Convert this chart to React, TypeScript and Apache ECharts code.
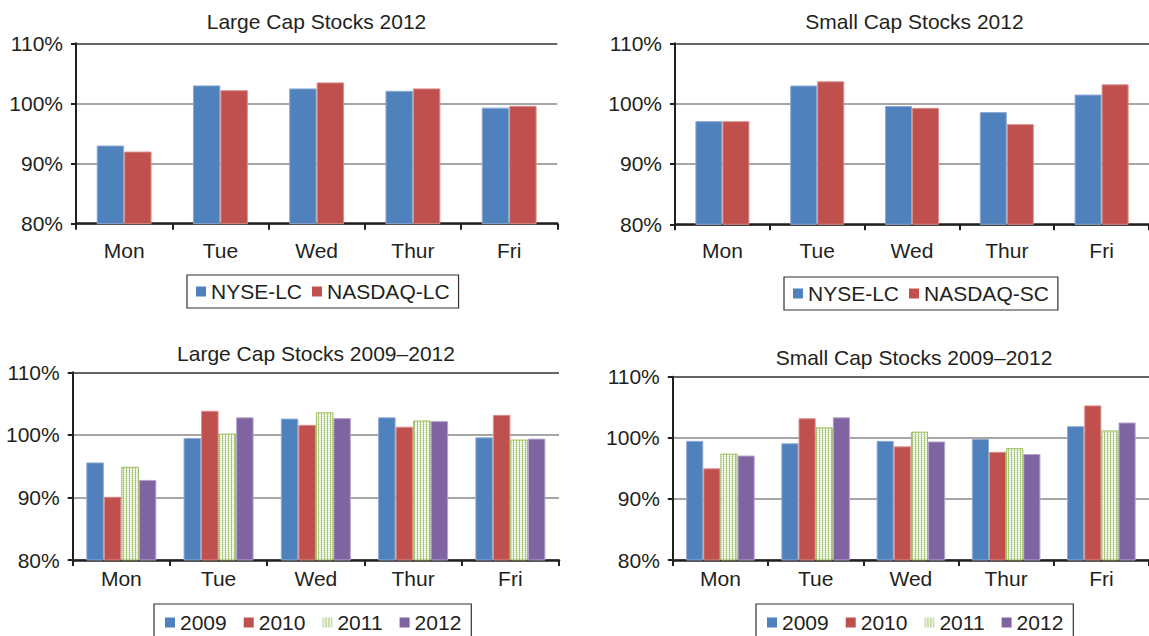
import React, { useEffect, useRef } from "react";
import * as echarts from "echarts";

const days = ["Mon", "Tue", "Wed", "Thur", "Fri"];
const yTicks = [80, 110, 10];

const lcNyse2012 = [93.0, 103.0, 102.5, 102.1, 99.3];
const lcNasdaq2012 = [92.0, 102.2, 103.5, 102.5, 99.6];
const scNyse2012 = [97.1, 103.0, 99.6, 98.6, 101.5];
const scNasdaq2012 = [97.1, 103.7, 99.3, 96.6, 103.2];

const lc2009 = [95.6, 99.5, 102.6, 102.8, 99.6];
const lc2010 = [90.1, 103.85, 101.6, 101.3, 103.2];
const lc2011 = [94.9, 100.2, 103.6, 102.3, 99.25];
const lc2012 = [92.8, 102.8, 102.7, 102.2, 99.4];

const sc2009 = [99.5, 99.1, 99.5, 99.8, 101.9];
const sc2010 = [95.0, 103.2, 98.6, 97.7, 105.3];
const sc2011 = [97.4, 101.7, 101.0, 98.3, 101.2];
const sc2012 = [97.1, 103.35, 99.4, 97.35, 102.5];

const titles = [
  "Large Cap Stocks 2012",
  "Small Cap Stocks 2012",
  "Large Cap Stocks 2009\u20132012",
  "Small Cap Stocks 2009\u20132012",
];

const FONT = "'Liberation Sans', Arial, Helvetica, sans-serif";
const TXT = "#231F20";
const BLUE = "#4F81BD";
const RED = "#C0504D";
const GREEN = "#9BBB59";
const PURPLE = "#8064A2";

function makePattern() {
  const c = document.createElement("canvas");
  c.width = 3;
  c.height = 2;
  const ctx = c.getContext("2d")!;
  ctx.fillStyle = "#ffffff";
  ctx.fillRect(0, 0, 3, 2);
  ctx.fillStyle = "#A9C97A";
  ctx.fillRect(0, 0, 1, 2);
  ctx.fillStyle = "#DDEBC8";
  ctx.fillRect(1, 0, 2, 1);
  return { image: c, repeat: "repeat", imageWidth: 3, imageHeight: 2 } as any;
}

export default function App() {
  const ref = useRef<HTMLDivElement>(null);
  useEffect(() => {
    if (!ref.current) return;
    const chart = echarts.init(ref.current, undefined, { renderer: "svg" });
    const pattern = makePattern();

    const grids = [
      { left: 76, top: 43.3, width: 481.3, height: 180.4 },
      { left: 675, top: 43.3, width: 481, height: 181 },
      { left: 72.7, top: 372.3, width: 486.3, height: 187.7 },
      { left: 672.8, top: 376.7, width: 482.5, height: 183.3 },
    ];
    const labelMargins = [16, 16, 8, 8];

    const xAxis = grids.map((_, i) => ({
      type: "category",
      gridIndex: i,
      data: days,
      axisLine: { show: true, lineStyle: { color: TXT, width: 2.5 } },
      axisTick: { show: true, length: 6, lineStyle: { color: TXT, width: 2 } },
      axisLabel: { color: TXT, fontSize: 21, fontFamily: FONT, margin: labelMargins[i] },
    }));
    const yAxis = grids.map((_, i) => ({
      type: "value",
      gridIndex: i,
      min: yTicks[0],
      max: yTicks[1],
      interval: yTicks[2],
      axisLine: { show: true, lineStyle: { color: TXT, width: 2 } },
      axisTick: { show: true, length: 5, lineStyle: { color: TXT, width: 2 } },
      axisLabel: { color: TXT, fontSize: 21, fontFamily: FONT, margin: 13, formatter: "{value}%" },
      splitLine: {
        show: true,
        lineStyle: { color: ["#888888", "#888888", "#888888", "#333333"], width: 1.5 },
      },
    }));

    const bar = (name: string, data: number[], idx: number, color: any, border: string, gap: string) => ({
      type: "bar",
      name,
      data,
      xAxisIndex: idx,
      yAxisIndex: idx,
      barGap: "0%",
      barCategoryGap: gap,
      itemStyle: { color, borderColor: border, borderWidth: 1 },
    });

    const series = [
      bar("NYSE-LC", lcNyse2012, 0, BLUE, "#8EAAD4", "43%"),
      bar("NASDAQ-LC", lcNasdaq2012, 0, RED, "#D98F8C", "43%"),
      bar("NYSE-LC", scNyse2012, 1, BLUE, "#8EAAD4", "43%"),
      bar("NASDAQ-SC", scNasdaq2012, 1, RED, "#D98F8C", "43%"),
      bar("2009", lc2009, 2, BLUE, "#8EAAD4", "28%"),
      bar("2010", lc2010, 2, RED, "#D98F8C", "28%"),
      bar("2011", lc2011, 2, pattern, GREEN, "28%"),
      bar("2012", lc2012, 2, PURPLE, "#B3A5CC", "28%"),
      bar("2009", sc2009, 3, BLUE, "#8EAAD4", "28%"),
      bar("2010", sc2010, 3, RED, "#D98F8C", "28%"),
      bar("2011", sc2011, 3, pattern, GREEN, "28%"),
      bar("2012", sc2012, 3, PURPLE, "#B3A5CC", "28%"),
    ];

    const legendBase = {
      orient: "horizontal",
      icon: "rect",
      itemWidth: 10,
      itemHeight: 10,
      borderColor: "#333333",
      borderWidth: 1.2,
      backgroundColor: "#ffffff",
      selectedMode: false,
      textStyle: { color: TXT, fontSize: 21, fontFamily: FONT },
      itemStyle: { borderWidth: 0 },
    };
    const legend = [
      { ...legendBase, left: 187, top: 275, padding: [6, 9, 6, 9], itemGap: 10, data: ["NYSE-LC", "NASDAQ-LC"] },
      { ...legendBase, left: 784, top: 277, padding: [6, 9, 6, 9], itemGap: 10, data: ["NYSE-LC", "NASDAQ-SC"] },
      { ...legendBase, left: 154, top: 604, padding: [8, 10, 8, 11], itemGap: 17, data: ["2009", "2010", "2011", "2012"] },
      { ...legendBase, left: 756, top: 604, padding: [8, 10, 8, 11], itemGap: 17, data: ["2009", "2010", "2011", "2012"] },
    ];

    const titlePos = [
      [316.5, 21],
      [914.5, 21],
      [316, 353],
      [914, 357],
    ];
    const graphic = titles.map((t, i) => ({
      type: "text",
      x: titlePos[i][0],
      y: titlePos[i][1],
      style: {
        text: t,
        fill: TXT,
        font: `21px ${FONT}`,
        textAlign: "center",
        textVerticalAlign: "middle",
      },
    }));

    chart.setOption({
      animation: false,
      backgroundColor: "#ffffff",
      grid: grids,
      xAxis,
      yAxis,
      series,
      legend,
      graphic,
    } as any);
    return () => chart.dispose();
  }, []);
  return (
    <div
      ref={ref}
      style={{ position: "absolute", left: 0, top: 0, width: 1149, height: 636 }}
    />
  );
}
